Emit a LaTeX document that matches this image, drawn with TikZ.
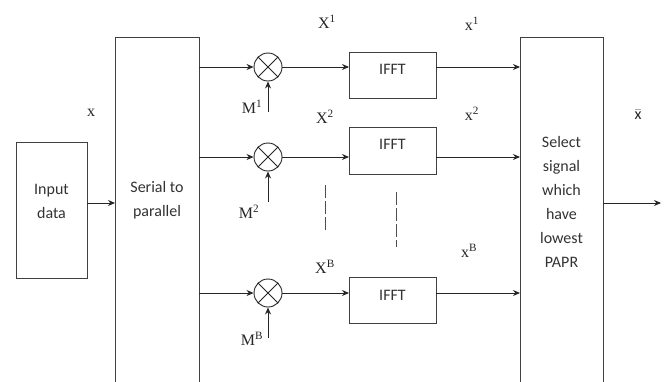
\documentclass[tikz,border=0pt]{standalone}
\usepackage{fontspec}
\setmainfont{Carlito}
\newfontfamily\lblfont{Liberation Serif}
\usetikzlibrary{arrows.meta}
\tikzset{
  wire/.style={line width=0.9pt, draw=black!85},
  arr/.style={wire, -{Stealth[length=7pt,width=6pt]}},
  blk/.style={draw=black!75, line width=0.95pt, inner sep=0pt},
  boxtxt/.style={font=\fontsize{16}{24}\selectfont, text=black!80, align=center, inner sep=0pt},
  lbl/.style={font=\lblfont\fontsize{16}{17}\selectfont, text=black!85, inner sep=0pt},
  mult/.style={circle, draw=black!85, line width=0.9pt, minimum size=28pt, inner sep=0pt},
  dots/.style={draw=black!70, line width=1pt, dash pattern=on 13pt off 3pt}
}
\begin{document}
\begin{tikzpicture}[x=1pt,y=-1pt]
\useasboundingbox (0,0) rectangle (666,381);
\fill[white] (0,0) rectangle (666,381);
\clip (0,0) rectangle (666,381);
% blocks
\node[blk, minimum width=71pt, minimum height=136pt] (inp) at (51.5,210) {};
\node[boxtxt] (inptxt) at (51.5,201) {Input\\data};
\node[blk, minimum width=84pt, minimum height=350pt, anchor=north west] (s2p) at (115,37) {};
\node[boxtxt] (s2ptxt) at (157,200) {Serial to\\parallel};
\node[blk, minimum width=83pt, minimum height=350pt, anchor=north west] (sel) at (520,37) {};
\node[boxtxt] (seltxt) at (561.5,202) {Select\\signal\\which\\have\\lowest\\PAPR};
% IFFT boxes
\node[blk, minimum width=87pt, minimum height=46pt, anchor=north west] (f1) at (349,52) {};
\node[boxtxt] (f1t) at (392.5,69) {IFFT};
\node[blk, minimum width=87pt, minimum height=47pt, anchor=north west] (f2) at (349,127) {};
\node[boxtxt] (f2t) at (392.5,144) {IFFT};
\node[blk, minimum width=87pt, minimum height=46pt, anchor=north west] (fB) at (349,277) {};
\node[boxtxt] (fBt) at (392.5,295) {IFFT};
% multipliers
\node[mult] (m1) at (268,67) {};
\node[mult] (m2) at (268,157) {};
\node[mult] (mB) at (268,293) {};
\foreach \m in {m1,m2,mB}{
  \draw[wire] (\m.north east) -- (\m.south west);
  \draw[wire] (\m.north west) -- (\m.south east);
}
% coordinates for row connections
\coordinate (s1) at (199,67);
\coordinate (s2) at (199,157);
\coordinate (sB) at (199,293);
\coordinate (e1) at (436,67);
\coordinate (e2) at (436,157);
\coordinate (eB) at (436,293);
\coordinate (t1) at (520,67);
\coordinate (t2) at (520,157);
\coordinate (tB) at (520,293);
\coordinate (i1) at (349,67);
\coordinate (i2) at (349,157);
\coordinate (iB) at (349,293);
\coordinate (mm1) at (268,112);
\coordinate (mm2) at (268,202);
\coordinate (mmB) at (268,338);
\coordinate (inpout) at (87,203);
\coordinate (s2pin) at (115,203);
\coordinate (selout) at (603,203);
\coordinate (outend) at (661,203);
% connectors
\draw[arr] (inpout) -- (s2pin);
\draw[arr] (s1) -- (m1.west);
\draw[arr] (s2) -- (m2.west);
\draw[arr] (sB) -- (mB.west);
\draw[arr] (mm1) -- (m1.south);
\draw[arr] (mm2) -- (m2.south);
\draw[arr] (mmB) -- (mB.south);
\draw[arr] (m1.east) -- (i1);
\draw[arr] (m2.east) -- (i2);
\draw[arr] (mB.east) -- (iB);
\draw[arr] (e1) -- (t1);
\draw[arr] (e2) -- (t2);
\draw[arr] (eB) -- (tB);
\draw[arr] (selout) -- (outend);
% dashed continuation marks
\coordinate (d1a) at (325,185);
\coordinate (d1b) at (325,232);
\coordinate (d2a) at (396,192);
\coordinate (d2b) at (396,247);
\draw[dots] (d1a) -- (d1b);
\draw[dots] (d2a) -- (d2b);
% labels
\node[lbl] (lx) at (91,113) {x};
\node[lbl] (lX1) at (327,22) {X\textsuperscript{1}};
\node[lbl] (lX2) at (325,117) {X\textsuperscript{2}};
\node[lbl] (lXB) at (325,267) {X\textsuperscript{B}};
\node[lbl] (lx1) at (472,24) {x\textsuperscript{1}};
\node[lbl] (lx2) at (472,114) {x\textsuperscript{2}};
\node[lbl] (lxB) at (469,251) {x\textsuperscript{B}};
\node[lbl] (lM1) at (252,107) {M\textsuperscript{1}};
\node[lbl] (lM2) at (249,212) {M\textsuperscript{2}};
\node[lbl] (lMB) at (252,339) {M\textsuperscript{B}};
\node[lbl] (lxbar) at (638,115) {$\bar{\textrm{x}}$};
\end{tikzpicture}
\end{document}
